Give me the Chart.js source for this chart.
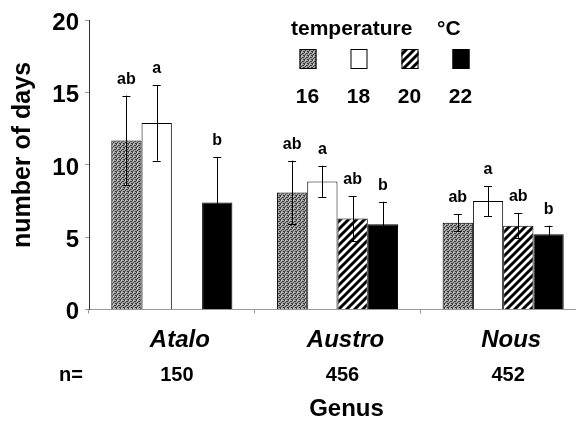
<!DOCTYPE html>
<html><head><meta charset="utf-8">
<script src="https://cdn.jsdelivr.net/npm/chart.js@4"></script>
<style>
html,body{margin:0;padding:0;overflow:hidden;background:#fff;width:576px;height:424px}
canvas{display:block}
</style></head>
<body><canvas id="c" width="586" height="424"></canvas>
<script>
// ---- data ----
const genera = ['Atalo', 'Austro', 'Nous'];
const sampleSizes = ['150', '456', '452'];
const temperatures = ['16', '18', '20', '22'];
const mean16 = [11.7, 8.1, 6.0];
const sd16   = [3.1, 2.2, 0.6];
const mean18 = [12.9, 8.85, 7.5];
const sd18   = [2.6, 1.1, 1.05];
const mean20 = [null, 6.3, 5.8];
const sd20   = [null, 1.55, 0.85];
const mean22 = [7.4, 5.9, 5.2];
const sd22   = [3.15, 1.55, 0.6];
const letters16 = ['ab', 'ab', 'ab'];
const letters18 = ['a', 'a', 'a'];
const letters20 = ['', 'ab', 'ab'];
const letters22 = ['b', 'b', 'b'];
const yMin = 0, yMax = 20, yStep = 5;

const FONT = "'Liberation Sans', Arial, Helvetica, sans-serif";
const canvas = document.getElementById('c');
const ctx = canvas.getContext('2d');

function stipplePattern() {
  const c = document.createElement('canvas'); c.width = 4; c.height = 4;
  const x = c.getContext('2d');
  x.fillStyle = '#a6a6a6'; x.fillRect(0, 0, 4, 4);
  x.fillStyle = '#383838';
  [[0,0],[2,1],[1,2],[3,3],[3,1],[0,3]].forEach(p => x.fillRect(p[0], p[1], 1, 1));
  x.fillStyle = '#d0d0d0';
  [[1,0]].forEach(p => x.fillRect(p[0], p[1], 1, 1));
  return ctx.createPattern(c, 'repeat');
}
function hatchPattern() {
  const c = document.createElement('canvas'); c.width = 8; c.height = 8;
  const x = c.getContext('2d');
  x.fillStyle = '#fff'; x.fillRect(0, 0, 8, 8);
  x.strokeStyle = '#000'; x.lineWidth = 3;
  x.beginPath();
  x.moveTo(-1, 9); x.lineTo(9, -1);
  x.moveTo(-1, 1); x.lineTo(1, -1);
  x.moveTo(7, 9); x.lineTo(9, 7);
  x.stroke();
  return ctx.createPattern(c, 'repeat');
}

const fills = [stipplePattern(), '#ffffff', hatchPattern(), '#000000'];
const means = [mean16, mean18, mean20, mean22];
const sds = [sd16, sd18, sd20, sd22];
const letters = [letters16, letters18, letters20, letters22];

const errorBarPlugin = {
  id: 'errorBars',
  afterDatasetsDraw(chart) {
    const c = chart.ctx, ys = chart.scales.y;
    c.save();
    chart.data.datasets.forEach((ds, di) => {
      const meta = chart.getDatasetMeta(di);
      meta.data.forEach((bar, i) => {
        const m = means[di][i], s = sds[di][i];
        if (m == null) return;
        const x = bar.x;
        const top = ys.getPixelForValue(m + s), bot = ys.getPixelForValue(m - s);
        c.strokeStyle = '#000'; c.lineWidth = 1;
        c.beginPath();
        c.moveTo(Math.round(x) + 0.5, top); c.lineTo(Math.round(x) + 0.5, bot);
        c.moveTo(x - 4, Math.round(top) + 0.5); c.lineTo(x + 4, Math.round(top) + 0.5);
        c.moveTo(x - 4, Math.round(bot) + 0.5); c.lineTo(x + 4, Math.round(bot) + 0.5);
        c.stroke();
        const lt = letters[di][i];
        if (lt) {
          c.fillStyle = '#000';
          c.font = 'bold 16px ' + FONT;
          c.textAlign = 'center'; c.textBaseline = 'alphabetic';
          c.fillText(lt, x, top - 12);
        }
      });
    });
    c.restore();
  }
};

const annotationPlugin = {
  id: 'annotations',
  afterDraw(chart) {
    const c = chart.ctx, xs = chart.scales.x, area = chart.chartArea;
    c.save();
    c.fillStyle = '#000';
    // y-axis title
    c.save();
    c.translate(23.5, 155);
    c.rotate(-Math.PI / 2);
    c.font = 'bold 25px ' + FONT;
    c.textAlign = 'center'; c.textBaseline = 'middle';
    c.fillText('number of days', 0, 0);
    c.restore();
    // sample size row
    c.font = 'bold 20px ' + FONT;
    c.textBaseline = 'middle';
    c.textAlign = 'left';
    c.fillText('n=', 59, 375);
    c.textAlign = 'center';
    sampleSizes.forEach((n, i) => c.fillText(n, xs.getPixelForValue(i) + 5, 375));
    // x-axis title
    c.font = 'bold 24px ' + FONT;
    c.fillText('Genus', (area.left + area.right) / 2 + 9, 409);
    // legend
    c.textAlign = 'left'; c.textBaseline = 'alphabetic';
    c.font = 'bold 21px ' + FONT;
    c.fillText('temperature', 291, 35);
    c.fillText('°C', 437, 35);
    temperatures.forEach((t, i) => {
      const bx = 299.5 + i * 51;
      c.fillStyle = fills[i];
      c.fillRect(bx, 49, 17, 20);
      c.strokeStyle = '#000'; c.lineWidth = 1;
      c.strokeRect(bx + 0.5, 49.5, 16, 19);
      c.fillStyle = '#000';
      c.textAlign = 'center';
      c.font = 'bold 21px ' + FONT;
      c.fillText(t, bx + 8, 103);
    });
    c.restore();
  }
};

new Chart(ctx, {
  type: 'bar',
  data: {
    labels: genera,
    datasets: temperatures.map((t, i) => ({
      label: t + ' °C',
      data: means[i],
      backgroundColor: fills[i],
      borderColor: '#000',
      borderWidth: 1,
      categoryPercentage: 0.731,
      barPercentage: 1.0
    }))
  },
  options: {
    responsive: false,
    animation: false,
    layout: { padding: { top: 10, left: 0, right: 0, bottom: 0 } },
    plugins: { legend: { display: false }, tooltip: { enabled: false } },
    scales: {
      x: {
        offset: true,
        grid: { display: true, drawOnChartArea: false, drawTicks: true, tickLength: 4, color: '#999', offset: true },
        border: { display: true, color: '#999', dash: [5, 3], width: 1 },
        ticks: {
          color: '#000', padding: 12, labelOffset: 8, maxRotation: 0, autoSkip: false,
          font: { family: FONT, size: 24, weight: 'bold', style: 'italic' }
        },
        afterFit(s) { s.height = 114.5; }
      },
      y: {
        min: yMin, max: yMax,
        grid: { display: true, drawOnChartArea: false, drawTicks: true, tickLength: 4, color: '#999' },
        border: { display: true, color: '#333', width: 1 },
        ticks: {
          stepSize: yStep, color: '#000', padding: 6, labelOffset: 3,
          font: { family: FONT, size: 24, weight: 'bold' }
        },
        afterFit(s) { s.width = 89; }
      }
    }
  },
  plugins: [errorBarPlugin, annotationPlugin]
});
</script>
</body></html>
